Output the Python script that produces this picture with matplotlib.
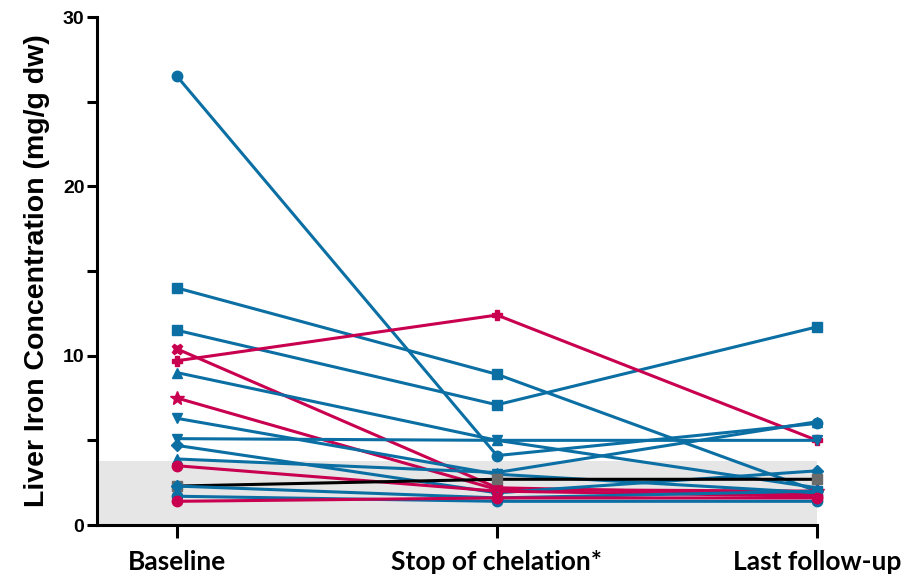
"""Liver iron concentration per patient: baseline, stop of chelation, last follow-up."""
import matplotlib
matplotlib.use("Agg")
import matplotlib.pyplot as plt

BLUE = "#0b6fa4"
RED = "#c8004f"

timepoints = ["Baseline", "Stop of chelation*", "Last follow-up"]
normal_upper = 3.8  # shaded normal range

# one entry per patient: values at the three timepoints
lic_values = [
    [26.5, 4.1, 6.0],
    [14.0, 8.9, 2.0],
    [11.5, 7.1, 11.7],
    [10.4, 2.2, 1.8],
    [9.7, 12.4, 5.0],
    [9.0, 5.0, 2.2],
    [7.5, 2.1, 2.0],
    [6.3, 3.0, 1.9],
    [5.1, 5.0, 5.0],
    [4.7, 1.9, 3.2],
    [3.9, 3.1, 6.1],
    [3.5, 2.0, 1.7],
    [2.3, 2.7, 2.7],
    [2.3, 1.6, 2.0],
    [1.7, 1.4, 1.4],
    [1.4, 1.6, 1.6],
]
patient_colors = [BLUE, BLUE, BLUE, RED, RED, BLUE, RED, BLUE,
                  BLUE, BLUE, BLUE, RED, "black", BLUE, BLUE, RED]
patient_markers = ["o", "s", "s", "X", "P", "^", "*", "v",
                   "v", "D", "^", "o", "s", "D", "o", "o"]

fig = plt.figure(figsize=(9.03, 5.77), dpi=100)
ax = fig.add_axes([0.1074, 0.0901, 0.7973, 0.8804])

x = list(range(len(timepoints)))
ax.axhspan(0, normal_upper, color="#e6e6e6", zorder=0, lw=0)

for vals, col, mk in zip(lic_values, patient_colors, patient_markers):
    mcol = "#6b6b6b" if col == "black" else col
    ms = 7.5
    if mk == "*":
        ms = 10
    elif mk == "D":
        ms = 6.5
    ax.plot(x, vals, color=col, lw=2.2, marker=mk, ms=ms,
            markerfacecolor=mcol, markeredgecolor=mcol, clip_on=False, zorder=3)

ax.set_xlim(-0.25, 2.0)
ax.set_ylim(0, 30)
ax.set_yticks([0, 10, 20, 30])
ax.set_yticks([5, 15, 25], minor=True)
ax.set_xticks(x)
ax.set_xticklabels(timepoints, fontsize=19, fontweight="bold", family="Lato")
ax.set_yticklabels(["0", "10", "20", "30"], fontsize=14, fontweight="bold",
                   family="Liberation Sans")
ax.tick_params(axis="y", which="major", width=2.2, length=7, pad=2)
ax.tick_params(axis="y", which="minor", width=2.2, length=7)
ax.tick_params(axis="x", width=2.2, length=9, pad=9)

ax.set_ylabel("Liver Iron Concentration (mg/g dw)", fontsize=20.5,
              fontweight="bold", family="Liberation Sans", labelpad=9)

for side in ("top", "right"):
    ax.spines[side].set_visible(False)
for side in ("left", "bottom"):
    ax.spines[side].set_linewidth(2.2)
    ax.spines[side].set_zorder(4)

fig.savefig("out.png", dpi=100)
